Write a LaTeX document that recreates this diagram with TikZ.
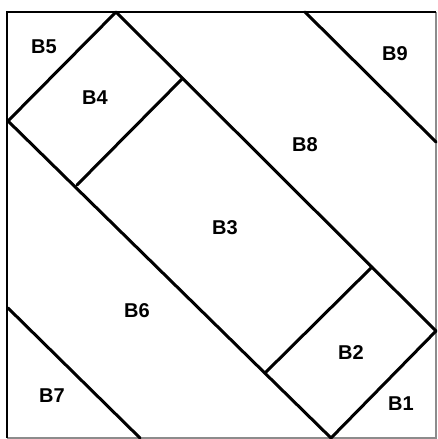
\documentclass[tikz,border=0pt]{standalone}
\usepackage{fontspec}
\setmainfont{Liberation Sans}
\begin{document}
\begin{tikzpicture}[x=1pt,y=-1pt,
  edge/.style={line width=3pt,line cap=round,line join=round},
  frame/.style={line width=2.6pt},
  faint/.style={line width=1.2pt,black!45},
  lab/.style={font=\fontsize{20}{20}\selectfont\bfseries,inner sep=0pt}]
\useasboundingbox (0,0) rectangle (438,439);
\fill[white] (0,0) rectangle (438,439);
% frame corners
\coordinate (TL) at (7,12);
\coordinate (TR) at (436,12);
\coordinate (BR) at (436,438);
\coordinate (BL) at (7,438);
\draw[faint] (TR) -- (BR) -- (BL);
\draw[frame] (BL) -- (TL) -- (TR);
% main rectangle
\coordinate (A) at (116,12);
\coordinate (L) at (8,121);
\coordinate (R) at (436,331);
\coordinate (D) at (331,438);
\draw[edge] (A) -- (R) -- (D) -- (L) -- cycle;
% dividers
\coordinate (p1) at (77,185);
\coordinate (p2) at (182,79);
\draw[edge] (p1) -- (p2);
\coordinate (q1) at (265,373);
\coordinate (q2) at (372,267);
\draw[edge] (q1) -- (q2);
% B9 line
\coordinate (n1) at (305,12);
\coordinate (n2) at (436,142);
\draw[edge] (n1) -- (n2);
% B7 line
\coordinate (s1) at (8,308);
\coordinate (s2) at (140,438);
\draw[edge] (s1) -- (s2);
% labels
\node[lab] (b5) at (44,47) {B5};
\node[lab] (b4) at (95,98) {B4};
\node[lab] (b9) at (395,54) {B9};
\node[lab] (b8) at (305,145) {B8};
\node[lab] (b3) at (225,228) {B3};
\node[lab] (b6) at (137,311) {B6};
\node[lab] (b7) at (52,396) {B7};
\node[lab] (b2) at (351,353) {B2};
\node[lab] (b1) at (401,404) {B1};
\end{tikzpicture}
\end{document}
